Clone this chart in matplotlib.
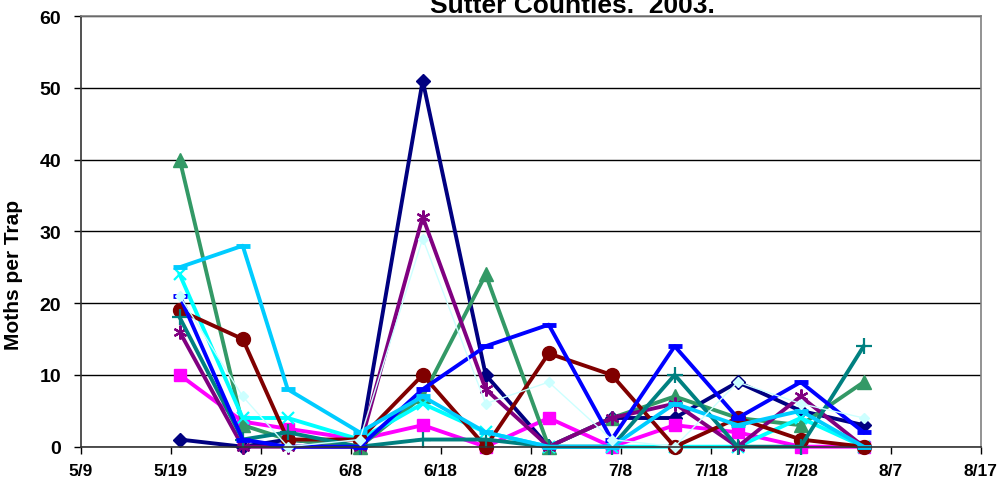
import datetime as dt
import matplotlib
matplotlib.use("Agg")
import matplotlib.pyplot as plt

plt.rcParams['font.family'] = ['Liberation Sans', 'DejaVu Sans']
plt.rcParams['font.weight'] = 'bold'

# trap check dates (2003)
dates = ["2003-05-20", "2003-05-27", "2003-06-01", "2003-06-09", "2003-06-16", "2003-06-23",
         "2003-06-30", "2003-07-07", "2003-07-14", "2003-07-21", "2003-07-28", "2003-08-04"]

# moths per trap, one list per trap
trap1 = [1, 0, 1, 0, 51, 10, 0, 4, 4, 9, 5, 3]
trap2 = [10, 3.5, 2.5, 1, 3, 0, 4, 0, 3, 2, 0, 0]
trap3 = [40, 3, 1, 0, 7, 24, 0, 4, 7, 4, 3, 9]
trap4 = [24, 4, 4, 1, 6, 2, 0, 0, 0, 0, 4, 0]
trap5 = [16, 0, 0, 0, 32, 8, 0, 4, 6, 0, 7, 0]
trap6 = [19, 15, 1, 1, 10, 0, 13, 10, 0, 4, 1, 0]
trap7 = [18, 1, 2, 0, 1, 1, 0, 0, 10, 0, 0, 14]
trap8 = [21, 1, 0, 0, 8, 14, 17, 1, 14, 4, 9, 2]
trap9 = [25, 28, 8, 2, 7, 2, 0, 0, 6, 3, 5, 0]
trap10 = [21, 7, 0, 1, 29, 6, 9, 1, 0, 9, 6, 4]

x = [dt.datetime.strptime(d, "%Y-%m-%d") for d in dates]

styles = [
    (trap1, dict(color="#000080", marker="D", ms=7.5, lw=2.8)),
    (trap2, dict(color="#FF00FF", marker="s", ms=9, lw=2.8)),
    (trap3, dict(color="#339966", marker="^", ms=10, lw=2.8)),
    (trap4, dict(color="#00FFFF", marker="x", ms=9, mew=1.6, lw=2.8)),
    (trap5, dict(color="#800080", marker=(6, 2, 0), ms=10, mew=1.6, lw=2.8)),
    (trap6, dict(color="#800000", marker="o", ms=10, lw=2.8)),
    (trap7, dict(color="#008080", marker="+", ms=11, mew=1.6, lw=2.8)),
    (trap8, dict(color="#0000FF", marker="_", ms=10, mew=3.5, lw=2.8)),
    (trap9, dict(color="#00CCFF", marker="_", ms=10, mew=3.5, lw=2.8)),
    (trap10, dict(color="#CCFFFF", marker="D", ms=5, lw=1.0)),
]

fig = plt.figure(figsize=(10, 4.85), dpi=100)
ax = fig.add_axes([0.0807, 0.0769, 0.9, 0.888])

for vals, st in styles:
    ax.plot(x, vals, clip_on=False, **st)

ax.set_ylim(0, 60)
ax.set_yticks(range(0, 61, 10))
ax.yaxis.grid(True, color="black", lw=1.0)
ax.set_axisbelow(True)

# x axis: every 10 days from 5/9 to 8/17
start = dt.datetime(2003, 5, 9)
ticks = [start + dt.timedelta(days=10 * i) for i in range(11)]
ax.set_xlim(ticks[0], ticks[-1])
ax.set_xticks(ticks)
ax.set_xticklabels([f"{t.month}/{t.day}" for t in ticks])

ax.tick_params(axis="x", direction="out", length=5, width=1, pad=7, labelsize=12.5)
ax.tick_params(axis="y", direction="out", length=5, width=1, pad=9, labelsize=14)
for s in ["left", "bottom"]:
    ax.spines[s].set_color("#333333")
    ax.spines[s].set_linewidth(1.2)
for s in ["top", "right"]:
    ax.spines[s].set_color("#808080")
    ax.spines[s].set_linewidth(1.2)

fig.text(0.014, 0.433, "Moths per Trap", rotation=90, ha="center", va="center",
         fontsize=15, fontweight="bold")
# second line of the title, cut off at the top like in the original
fig.text(0.5725, 0.974, "Sutter Counties.  2003.", ha="center", va="baseline",
         fontsize=19, fontweight="bold")

fig.savefig("out.png", dpi=100, facecolor="white")
